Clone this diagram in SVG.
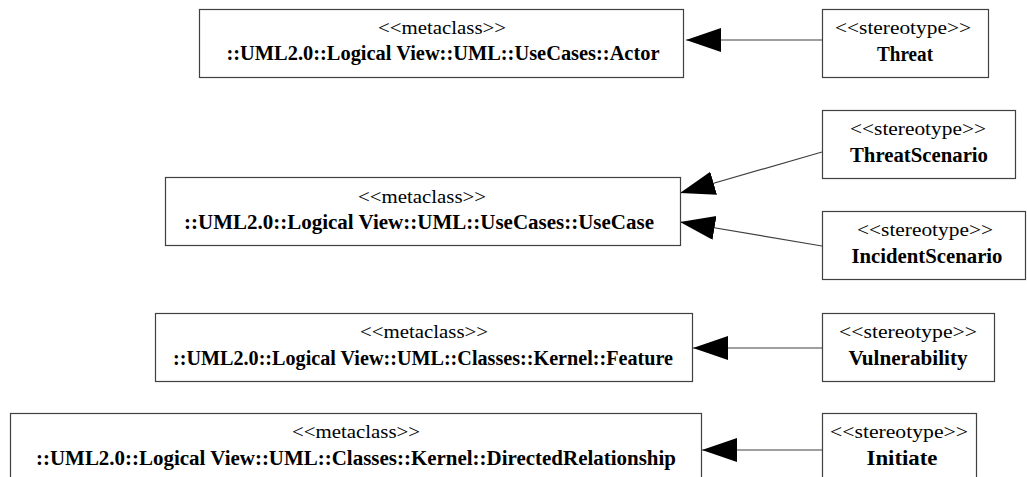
<svg xmlns="http://www.w3.org/2000/svg" width="1027" height="477" viewBox="0 0 1027 477">
<style>
.box{fill:#fff;stroke:#404040;stroke-width:1.2}
.st{font-family:"Liberation Serif","Times New Roman",serif;font-size:19px;fill:#000;text-anchor:middle}
.nm{font-family:"Liberation Serif","Times New Roman",serif;font-size:20px;font-weight:bold;fill:#000;text-anchor:middle}
.edge{stroke:#404040;stroke-width:1.2;fill:none;marker-end:url(#tri)}
</style>
<defs>
<marker id="tri" markerUnits="userSpaceOnUse" markerWidth="36" markerHeight="26" refX="35" refY="12" orient="auto">
<path d="M0,0 L35,12 L0,24 Z" fill="#000"/>
</marker>
</defs>
<rect width="1027" height="477" fill="#fff"/>
<g id="connectors">
<line class="edge" x1="822" y1="40" x2="686" y2="40"/>
<line class="edge" x1="822" y1="152" x2="680" y2="193"/>
<line class="edge" x1="822" y1="246" x2="680" y2="222"/>
<line class="edge" x1="822" y1="348" x2="693" y2="348"/>
<line class="edge" x1="822" y1="450" x2="702" y2="450"/>
</g>
<g id="actor">
<rect class="box" x="199.5" y="9.5" width="484" height="68"/>
<text class="st" x="442" y="34" textLength="128" lengthAdjust="spacingAndGlyphs">&lt;&lt;metaclass&gt;&gt;</text>
<text class="nm" x="443" y="60" textLength="433" lengthAdjust="spacingAndGlyphs">::UML2.0::Logical View::UML::UseCases::Actor</text>
</g>
<g id="threat">
<rect class="box" x="822.5" y="9.5" width="166" height="68"/>
<text class="st" x="903" y="34" textLength="136" lengthAdjust="spacingAndGlyphs">&lt;&lt;stereotype&gt;&gt;</text>
<text class="nm" x="905" y="61" textLength="56" lengthAdjust="spacingAndGlyphs">Threat</text>
</g>
<g id="usecase">
<rect class="box" x="165.5" y="177.5" width="515" height="68"/>
<text class="st" x="422" y="203" textLength="128" lengthAdjust="spacingAndGlyphs">&lt;&lt;metaclass&gt;&gt;</text>
<text class="nm" x="419" y="229" textLength="470" lengthAdjust="spacingAndGlyphs">::UML2.0::Logical View::UML::UseCases::UseCase</text>
</g>
<g id="threatscenario">
<rect class="box" x="822.5" y="110.5" width="193" height="68"/>
<text class="st" x="918" y="135" textLength="136" lengthAdjust="spacingAndGlyphs">&lt;&lt;stereotype&gt;&gt;</text>
<text class="nm" x="919" y="162" textLength="138" lengthAdjust="spacingAndGlyphs">ThreatScenario</text>
</g>
<g id="incidentscenario">
<rect class="box" x="822.5" y="211.5" width="203" height="68"/>
<text class="st" x="925" y="236" textLength="136" lengthAdjust="spacingAndGlyphs">&lt;&lt;stereotype&gt;&gt;</text>
<text class="nm" x="927" y="263" textLength="151" lengthAdjust="spacingAndGlyphs">IncidentScenario</text>
</g>
<g id="feature">
<rect class="box" x="155.5" y="313.5" width="537" height="68"/>
<text class="st" x="424" y="338" textLength="128" lengthAdjust="spacingAndGlyphs">&lt;&lt;metaclass&gt;&gt;</text>
<text class="nm" x="423" y="365" textLength="500" lengthAdjust="spacingAndGlyphs">::UML2.0::Logical View::UML::Classes::Kernel::Feature</text>
</g>
<g id="vulnerability">
<rect class="box" x="822.5" y="313.5" width="172" height="68"/>
<text class="st" x="908" y="338" textLength="138" lengthAdjust="spacingAndGlyphs">&lt;&lt;stereotype&gt;&gt;</text>
<text class="nm" x="908" y="365" textLength="119" lengthAdjust="spacingAndGlyphs">Vulnerability</text>
</g>
<g id="directedrelationship">
<rect class="box" x="10.5" y="413.5" width="691" height="80"/>
<text class="st" x="356" y="438" textLength="128" lengthAdjust="spacingAndGlyphs">&lt;&lt;metaclass&gt;&gt;</text>
<text class="nm" x="356" y="465" textLength="640" lengthAdjust="spacingAndGlyphs">::UML2.0::Logical View::UML::Classes::Kernel::DirectedRelationship</text>
</g>
<g id="initiate">
<rect class="box" x="822.5" y="413.5" width="154" height="80"/>
<text class="st" x="899" y="438" textLength="138" lengthAdjust="spacingAndGlyphs">&lt;&lt;stereotype&gt;&gt;</text>
<text class="nm" x="902" y="465" textLength="71" lengthAdjust="spacingAndGlyphs">Initiate</text>
</g>
</svg>
